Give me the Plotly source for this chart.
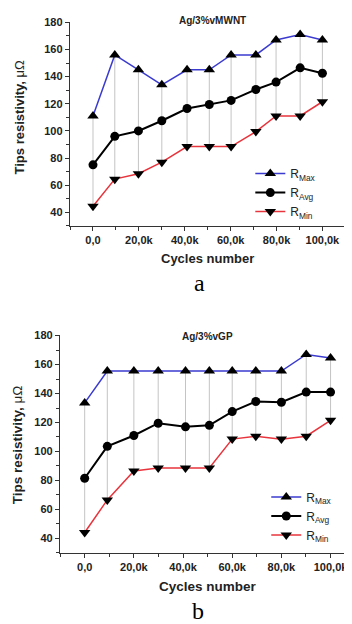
import plotly.graph_objects as go

# ---------------- data ----------------
cycles_a = [0, 9500, 19800, 30000, 41000, 50700, 60200, 71000, 79800, 90300, 100000]
r_max_a = [111, 156, 145, 134, 145, 145, 156, 156, 167, 171, 167]
r_avg_a = [75, 96, 100, 107.5, 116.5, 119.5, 122.5, 130.5, 136, 146.5, 142.5]
r_min_a = [44.5, 64.5, 68.5, 77, 88.5, 88.5, 88.5, 99.5, 111, 111, 121.5]

cycles_b = [0, 9200, 20000, 29900, 41000, 50700, 60000, 69600, 80000, 90100, 100000]
r_max_b = [133.5, 155.5, 155.5, 155.5, 155.5, 155.5, 155.5, 155.5, 155.5, 167, 164.5]
r_avg_b = [81.5, 103.5, 111, 119.5, 117, 118, 127.5, 134.5, 134, 141, 141]
r_min_b = [44, 66.5, 86.5, 88.5, 88.5, 88.5, 108.5, 110.5, 108.5, 110.5, 121.5]

x_tickvals = [0, 20000, 40000, 60000, 80000, 100000]
x_ticktext = ["0,0", "20,0k", "40,0k", "60,0k", "80,0k", "100,0k"]
y_tickvals = [40, 60, 80, 100, 120, 140, 160, 180]

titles = ["Ag/3%vMWNT", "Ag/3%vGP"]
panel_letters = ["a", "b"]

BLUE = "#3b3bd0"
RED = "#e8343c"
GRAY = "#c4c4c4"
SANS = "Liberation Sans"

fig = go.Figure()


def drop_lines(x, lo, hi):
    xs, ys = [], []
    for xi, l, h in zip(x, lo, hi):
        xs += [xi, xi, None]
        ys += [l, h, None]
    return xs, ys


panels = [
    (cycles_a, r_max_a, r_avg_a, r_min_a, "x", "y", "legend"),
    (cycles_b, r_max_b, r_avg_b, r_min_b, "x2", "y2", "legend2"),
]

for cyc, rmax, ravg, rmin, xa, ya, leg in panels:
    dx, dy = drop_lines(cyc, rmin, rmax)
    fig.add_trace(go.Scatter(x=dx, y=dy, mode="lines", xaxis=xa, yaxis=ya,
                             line=dict(color=GRAY, width=1), showlegend=False,
                             hoverinfo="skip"))
    fig.add_trace(go.Scatter(x=cyc, y=rmax, mode="lines+markers", name="R<sub>Max</sub>",
                             xaxis=xa, yaxis=ya, legend=leg,
                             line=dict(color=BLUE, width=1.5),
                             marker=dict(symbol="triangle-up", size=10, color="black")))
    fig.add_trace(go.Scatter(x=cyc, y=ravg, mode="lines+markers", name="R<sub>Avg</sub>",
                             xaxis=xa, yaxis=ya, legend=leg,
                             line=dict(color="black", width=2),
                             marker=dict(symbol="circle", size=9, color="black")))
    fig.add_trace(go.Scatter(x=cyc, y=rmin, mode="lines+markers", name="R<sub>Min</sub>",
                             xaxis=xa, yaxis=ya, legend=leg,
                             line=dict(color=RED, width=1.5),
                             marker=dict(symbol="triangle-down", size=10, color="black")))

W, H = 352, 624
OFF = 8  # page body margin offset


def px(xp):
    return (xp - OFF) / W


def py(yp):
    return 1 - (yp - OFF) / H


axis_common = dict(showline=True, linecolor="#333333", linewidth=1, showgrid=False,
                   zeroline=False, ticks="outside", ticklen=4, tickcolor="#333333",
                   tickfont=dict(family=SANS, size=11, color="#222222", weight="bold"))

fig.update_layout(
    width=W, height=H,
    margin=dict(l=0, r=0, t=0, b=0),
    paper_bgcolor="white", plot_bgcolor="white",
    xaxis=dict(domain=[px(70), px(347)], range=[-10100, 110300], anchor="y",
               tickvals=x_tickvals, ticktext=x_ticktext,
               minor=dict(ticks="outside", ticklen=3, dtick=10000, tick0=0, tickcolor="#333333"),
               **axis_common),
    yaxis=dict(domain=[py(222.3), py(16)], range=[29.8, 180.3], anchor="x",
               tickvals=y_tickvals,
               minor=dict(ticks="outside", ticklen=3, dtick=10, tick0=0, tickcolor="#333333"),
               **axis_common),
    xaxis2=dict(domain=[px(60), px(348)], range=[-10100, 106700], anchor="y2",
                tickvals=x_tickvals, ticktext=x_ticktext,
                minor=dict(ticks="outside", ticklen=3, dtick=10000, tick0=0, tickcolor="#333333"),
                **axis_common),
    yaxis2=dict(domain=[py(552), py(332.3)], range=[30, 180.3], anchor="x2",
                tickvals=y_tickvals,
                minor=dict(ticks="outside", ticklen=3, dtick=10, tick0=0, tickcolor="#333333"),
                **axis_common),
    legend=dict(x=px(251), y=py(154.5), xanchor="left", yanchor="top",
                bgcolor="rgba(0,0,0,0)", font=dict(family=SANS, size=12, color="#222222"),
                itemwidth=30),
    legend2=dict(x=px(267), y=py(481), xanchor="left", yanchor="top",
                 bgcolor="rgba(0,0,0,0)", font=dict(family=SANS, size=12, color="#222222"),
                 itemwidth=30),
    showlegend=True,
)


def note(text, xp, yp, size, family=SANS, angle=0, color="#222222"):
    return dict(text=text, x=px(xp), y=py(yp), xref="paper", yref="paper",
                xanchor="center", yanchor="middle", textangle=angle, showarrow=False,
                font=dict(family=family, size=size, color=color))


ann = [
    note(f"<b>{titles[0]}</b>", 213, 15, 10),
    note(f"<b>{titles[1]}</b>", 208, 334, 10),
    note("<b>Tips resistivity, </b>μΩ", 20, 111.5, 13, angle=-90),
    note("<b>Tips resistivity, </b>μΩ", 17.5, 443, 13.5, angle=-90),
    note("<b>Cycles number</b>", 208, 255, 13),
    note("<b>Cycles number</b>", 208.3, 586, 13.5),
    note(panel_letters[0], 200, 280, 24, family="Liberation Serif", color="black"),
    note(panel_letters[1], 199, 610.5, 24, family="Liberation Serif", color="black"),
]

fig.update_layout(annotations=ann)

fig.write_html("out.html")
